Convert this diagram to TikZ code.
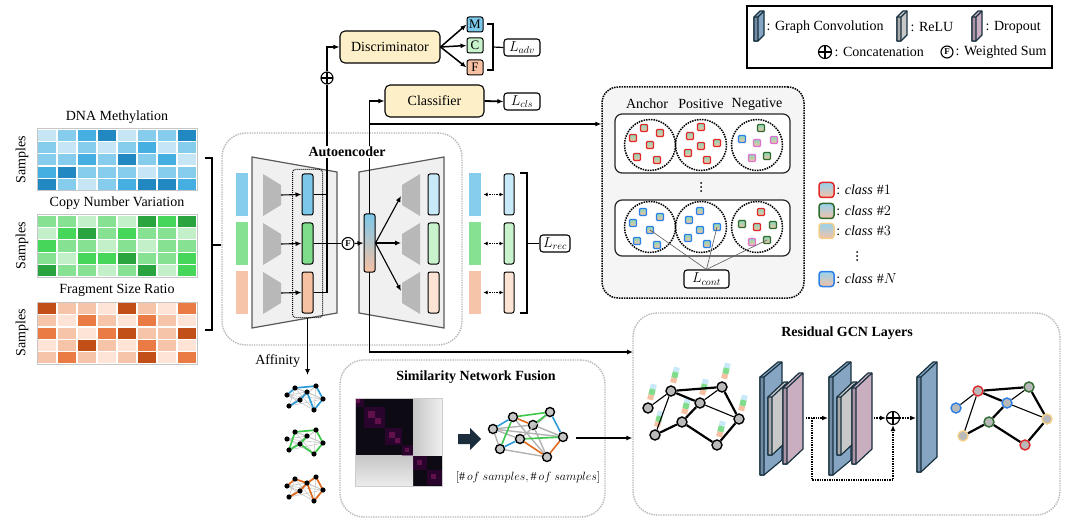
\documentclass[tikz,border=0pt]{standalone}
\usepackage{fontspec}
\setmainfont{Liberation Serif}
\usetikzlibrary{arrows.meta,calc,fit,positioning}

\definecolor{dna1}{HTML}{C6E6F6}
\definecolor{dna2}{HTML}{86CCEC}
\definecolor{dna3}{HTML}{45AFE2}
\definecolor{dna4}{HTML}{2188C2}
\definecolor{cnv1}{HTML}{C3F0C8}
\definecolor{cnv2}{HTML}{86E192}
\definecolor{cnv3}{HTML}{45D65A}
\definecolor{cnv4}{HTML}{2AA43E}
\definecolor{fsr1}{HTML}{FDE4D6}
\definecolor{fsr2}{HTML}{F6C4A8}
\definecolor{fsr3}{HTML}{EB7B45}
\definecolor{fsr4}{HTML}{C24F17}
\definecolor{zblue}{HTML}{7CC8EA}
\definecolor{zgreen}{HTML}{7EDC8A}
\definecolor{zorange}{HTML}{F6C0A3}
\definecolor{xblue}{HTML}{C8E9F8}
\definecolor{xgreen}{HTML}{C8F2CB}
\definecolor{xorange}{HTML}{FDE3D4}
\definecolor{boxyellow}{HTML}{FDF0C9}
\definecolor{aegray}{HTML}{F0F0F0}
\definecolor{trapgray}{HTML}{B8B8B8}
\definecolor{gcblue}{HTML}{86A5C2}
\definecolor{relugray}{HTML}{C8C8C8}
\definecolor{droppink}{HTML}{C9AEC0}
\definecolor{slabedge}{HTML}{17303F}
\definecolor{navy}{HTML}{1B2D3C}
\definecolor{cRed}{HTML}{E02828}
\definecolor{cDkg}{HTML}{2E6B2E}
\definecolor{cPink}{HTML}{E070D0}
\definecolor{cBlue}{HTML}{2A7FE8}
\definecolor{cYel}{HTML}{F3CF8A}
\definecolor{embtop}{HTML}{8AD8B8}
\definecolor{embbot}{HTML}{F6C0A3}
\definecolor{ablue}{HTML}{2E9BD6}
\definecolor{agreen}{HTML}{3CC84A}
\definecolor{aorange}{HTML}{E06A1E}
\definecolor{snfdark}{HTML}{0E0A14}

% one omics matrix: top y, colour prefix, rows of levels
\newcommand{\heatmap}[3]{%
  \foreach \rowvals [count=\r from 0] in {#3} {
    \foreach \v [count=\c from 0] in \rowvals
      \filldraw[fill=#2\v, draw=white, line width=1.4pt] ({37+20*\c},{#1+12.4*\r}) rectangle ++(20,12.4);
  }
  \draw[gray!45, line width=1pt] (37,#1) rectangle ++(160,62);
}

% a GCN slab: top left, height, face width, rise, colour
\newcommand{\slab}[6]{%
  \filldraw[fill=#6, draw=slabedge, line width=1.2pt, line join=round]
    (#1,#2) -- ++(#4,-#5) -- ++(4,0) -- ++(0,#3) -- ++(-#4,#5) -- ++(-4,0) -- cycle;
  \fill[#6!85!black] (#1,#2) rectangle ++(4,#3);
  \draw[slabedge, line width=1.2pt, line join=round] (#1,#2) rectangle ++(4,#3)
    (#1+4,#2) -- ++(#4,-#5);
}

\begin{document}
\begin{tikzpicture}[x=1pt, y=-1pt, line width=1.1pt,
  font=\fontsize{14}{16}\selectfont,
  >={Latex[length=6pt,width=5pt]},
  grpbox/.style={draw=gray!55, densely dotted, line width=1.4pt, rounded corners=24pt, inner sep=0pt},
  latbar/.style={draw, rounded corners=2pt, line width=1pt, minimum width=11pt, minimum height=41pt, inner sep=0pt},
  inbar/.style={minimum width=12pt, minimum height=43pt, inner sep=0pt},
  yelbox/.style={draw, rounded corners=5pt, fill=boxyellow, line width=1.1pt, minimum height=32pt, inner sep=0pt},
  lossbox/.style={draw, rounded corners=3pt, line width=1.1pt, fill=white, minimum width=36pt, minimum height=17pt, inner sep=1pt},
  tagbox/.style={draw, rounded corners=2pt, line width=1pt, minimum width=16pt, minimum height=15pt, inner sep=0pt, font=\fontsize{13}{13}\selectfont},
  oplus/.style={circle, draw, fill=white, line width=1.1pt, minimum size=12pt, inner sep=0pt,
    path picture={\draw[line width=1.1pt] (path picture bounding box.north) -- (path picture bounding box.south)
      (path picture bounding box.west) -- (path picture bounding box.east);}},
  wsum/.style={circle, draw, fill=white, line width=1.1pt, minimum size=12pt, inner sep=0pt, font=\fontsize{9}{9}\selectfont\bfseries},
  pool/.style={circle, draw, densely dotted, line width=1.5pt, minimum size=51pt, inner sep=0pt},
  emb/.style={rectangle, rounded corners=1pt, minimum size=7pt, inner sep=0pt, line width=1.1pt, top color=embtop, bottom color=embbot},
  gnode/.style={circle, draw=#1, fill=gray!55, line width=1.4pt, minimum size=10pt, inner sep=0pt},
  gnode/.default=black,
  title/.style={font=\fontsize{14}{16}\selectfont\bfseries},
]
\useasboundingbox (0,0) rectangle (1080,532);

% group frames
\node[grpbox, minimum width=240pt, minimum height=212pt] (ae) at (342,239) {};
\node[grpbox, minimum width=265pt, minimum height=157pt] (snf) at (472.5,438.5) {};
\node[grpbox, minimum width=427pt, minimum height=202pt] (gcn) at (846.5,414) {};
\node[draw, densely dotted, line width=1.5pt, fill=gray!8, rounded corners=16pt,
  minimum width=202pt, minimum height=211pt] (contr) at (703,192.5) {};

% omics inputs
\node (tdna) at (117,117) {DNA Methylation};
\node (tcnv) at (117,203) {Copy Number Variation};
\node (tfsr) at (117,290) {Fragment Size Ratio};
\foreach \y [count=\i] in {160,246,333}
  \node[rotate=90] (smp\i) at (22,\y) {Samples};
\heatmap{129}{dna}{{1,2,3,4,1,2,2,4},{2,1,2,1,2,3,1,2},{2,2,3,2,4,2,3,1},{3,4,2,2,2,1,2,2},{4,2,1,2,3,4,4,3}}
\heatmap{215}{cnv}{{2,2,1,2,1,4,3,4},{1,3,4,2,3,2,2,1},{3,2,2,1,2,1,2,2},{2,1,3,3,4,2,2,3},{4,2,2,1,2,4,1,3}}
\heatmap{302}{fsr}{{4,2,2,1,4,2,1,3},{2,1,3,2,1,3,2,1},{3,2,1,3,4,2,2,4},{1,2,4,2,1,3,2,1},{2,3,2,1,2,4,1,3}}
\draw[line width=1.3pt] (205,158) -- (212,158) -- (212,330) -- (205,330);
\draw[line width=1.3pt] (212,245) -- (ae.west |- 0,245);

% encoder
\node[inbar, fill=dna2] (im) at (242,194.5) {};
\node[inbar, fill=cnv2] (ic) at (242,243.5) {};
\node[inbar, fill=fsr2] (if) at (242,292.5) {};
\filldraw[fill=aegray, draw=gray!70!black, line width=1.2pt] (252,157) -- (337,172) -- (337,313) -- (252,328) -- cycle;
\foreach \yc in {195,244,293}
  \fill[trapgray] (263,\yc-21) -- (281,\yc-10) -- (281,\yc+10) -- (263,\yc+21) -- cycle;
\node[latbar, fill=zblue] (zm) at (307.5,194.5) {};
\node[latbar, fill=zgreen] (zc) at (307.5,243.5) {};
\node[latbar, fill=zorange] (zf) at (307.5,292.5) {};
\node[fit=(zm)(zf), draw, densely dotted, rounded corners=3pt, line width=1pt, inner xsep=9pt, inner ysep=4pt] (zbox) {};
\foreach \yc/\z in {195/zm,244/zc,293/zf}
  \draw[->] (281,\yc) -- (\z.west);

% decoder
\filldraw[fill=aegray, draw=gray!70!black, line width=1.2pt] (359,172) -- (444,157) -- (444,328) -- (359,313) -- cycle;
\foreach \yc in {195,244,293}
  \fill[trapgray] (402,\yc-10) -- (420,\yc-21) -- (420,\yc+21) -- (402,\yc+10) -- cycle;
\node[latbar, fill=xblue] (xm) at (433.5,194.5) {};
\node[latbar, fill=xgreen] (xc) at (433.5,243.5) {};
\node[latbar, fill=xorange] (xf) at (433.5,292.5) {};

% fusion and heads
\node[oplus] (cat) at (327,78) {};
\node[wsum] (ws) at (348,243.5) {F};
\draw (zm.east) -| (cat.south);
\draw (zf.east) -| (cat.south);
\node[yelbox, minimum width=100pt] (disc) at (390,47) {Discriminator};
\node[yelbox, minimum width=99pt] (cls) at (434.5,101) {Classifier};
\draw[->] (cat.north) |- (disc.west);
\draw (369.5,100) -- (369.5,352);
\node[latbar, minimum height=58pt, top color=zblue, middle color=zgreen, bottom color=zorange] (zfuse) at (369.5,243) {};
\draw (zc.east) -- (ws.west);
\draw[->] (ws.east) -- (zfuse.west);
\foreach \yt in {196,243,291}
  \draw[->] (zfuse.east) -- (401,\yt);
\draw[->] (zfuse.north) |- (cls.west);
\coordinate (tap) at (369.5,124);
\draw[->] (tap) -- (tap -| contr.west);
\coordinate (gin) at (633,352);
\draw[->] (zfuse.south) |- (gin);
\node[title, fill=white, inner sep=1pt] (aetitle) at (347,152) {Autoencoder};

\node[tagbox, fill=zblue] (dm) at (475,24.5) {M};
\node[tagbox, fill=xgreen] (dc) at (475,45.5) {C};
\node[tagbox, fill=zorange] (df) at (475,67.5) {F};
\foreach \t in {dm,dc,df}
  \draw[->, line width=1.5pt] (disc.east) -- (\t.west);
\node[lossbox] (ladv) at (522,47.5) {$L_{adv}$};
\draw[line width=1.2pt] (487,24) -- (493,24) -- (493,70) -- (487,70);
\draw[line width=1.2pt] (493,47) -- (ladv.west);
\node[lossbox] (lcls) at (522,101.5) {$L_{cls}$};
\draw[->, line width=1.8pt] (cls.east) -- (lcls.west);

% reconstruction
\node[inbar, fill=dna2] (rm) at (475,194.5) {};
\node[inbar, fill=cnv2] (rc) at (475,243.5) {};
\node[inbar, fill=fsr2] (rf) at (475,292.5) {};
\node[latbar, minimum width=10pt, fill=xblue] (om) at (509,194.5) {};
\node[latbar, minimum width=10pt, fill=xgreen] (oc) at (509,243.5) {};
\node[latbar, minimum width=10pt, fill=xorange] (of) at (509,292.5) {};
\foreach \a/\b in {rm/om,rc/oc,rf/of}
  \draw[{Latex[length=4pt,width=4pt]}-{Latex[length=4pt,width=4pt]}, densely dotted, line width=1.3pt] (\a.east) ++(2,0) -- (\b.west);
\node[lossbox, minimum width=30pt] (lrec) at (555,243.5) {$L_{rec}$};
\draw[line width=1.2pt] (520,173) -- (527,173) -- (527,313) -- (520,313);
\draw[line width=1.2pt] (527,243.5) -- (lrec.west);

% contrastive panel
\node (hanc) at (647,104) {Anchor};
\node (hpos) at (701,104) {Positive};
\node (hneg) at (757,104) {Negative};
\node[draw=gray!30!black, fill=white, rounded corners=7pt, line width=1.2pt, minimum width=175pt, minimum height=59pt] (trip1) at (702.5,143.5) {};
\node[draw=gray!30!black, fill=white, rounded corners=7pt, line width=1.2pt, minimum width=175pt, minimum height=56pt] (trip2) at (702.5,228) {};
\foreach \d in {-4,0,4}
  \fill (701,187+\d) circle (1);
\foreach \g/\cx/\cy in {1/650/145, 2/701/145, 3/757/145, 4/650/227, 5/701/227, 6/757/227}
  \node[pool] (c\g) at (\cx,\cy) {};
\foreach \g/\pts in {
  1/{-6/-17/cRed, 10/-12/cRed, -17/-7/cRed, 0/0/cRed, -13/12/cRed, 7/15/cRed},
  2/{0/-18/cRed, -11/-9/cRed, 16/-2/cRed, 0/1/cRed, -13/8/cRed, 6/15/cRed},
  3/{4/-17/cDkg, -15/-6/cBlue, 0/-2/cPink, 17/-5/cPink, -5/13/cPink, 10/11/cDkg},
  4/{-7/-15/cBlue, 10/-10/cBlue, -17/-4/cBlue, 0/3/cBlue, -13/14/cBlue, 7/18/cBlue},
  5/{-1/-16/cBlue, -12/-7/cBlue, 16/0/cBlue, -1/3/cBlue, -13/11/cBlue, 6/17/cBlue},
  6/{4/-15/cRed, -15/-3/cDkg, 0/0/cRed, 16/-2/cDkg, -5/15/cPink, 10/13/cDkg}} {
  \foreach \dx/\dy/\col [count=\i] in \pts
    \node[emb, draw=\col] (s\g-\i) at ($(c\g)+(\dx,\dy)$) {};
}
\node[lossbox, minimum width=45pt, minimum height=18pt] (lcont) at (706.5,279) {$L_{cont}$};
\foreach \s in {s4-4,s5-3,s6-6}
  \draw[gray!70!black, line width=0.6pt] (lcont.north) -- (\s.center);

% class legend
\foreach \k/\col/\y/\lab in {1/cRed/190/1, 2/cDkg/211/2, 3/cYel/231/3, 4/cBlue/279/N} {
  \node[emb, minimum size=15pt, rounded corners=3pt, line width=1.5pt, draw=\col,
    top color=zblue!80, middle color=zgreen, bottom color=zorange] (cls\k) at (826.5,\y) {};
  \node[anchor=west, inner sep=1pt] (clt\k) at (cls\k.east) {: $\mathit{class}\;\#\lab$};
}
\foreach \d in {-4,0,4}
  \fill (857,256+\d) circle (1);

% key of symbols
\node[draw, line width=1.4pt, minimum width=305pt, minimum height=62pt] (key) at (899.5,37) {};
\slab{754}{17}{24}{6}{6}{gcblue}
\slab{897}{17}{24}{6}{6}{relugray}
\slab{972}{17}{24}{6}{6}{droppink}
\node[anchor=west, inner sep=0pt] (kgc) at (766,27) {: Graph Convolution};
\node[anchor=west, inner sep=0pt] (krelu) at (910,27) {: ReLU};
\node[anchor=west, inner sep=0pt] (kdrop) at (985,27) {: Dropout};
\node[oplus, minimum size=13pt] (kcat) at (825,52) {};
\node[anchor=west, inner sep=0pt] (kcatt) at (834,52) {: Concatenation};
\node[wsum] (kws) at (947,52) {F};
\node[anchor=west, inner sep=0pt] (kwst) at (955,52) {: Weighted Sum};

% affinity graphs
\draw[->] (zbox.south) -- ++(0,57);
\node[anchor=east] (aff) at (304,361) {Affinity};
\foreach \cy/\ac/\eset in {398/ablue/{1/2,2/4,4/5,5/6,7/3,3/6,7/8},
    442/agreen/{2/4,4/5,5/6,6/7,7/8,3/7,2/8},
    489/aorange/{1/2,2/3,3/4,4/5,5/6,7/3,7/8,3/6}} {
  \begin{scope}[shift={(305,\cy)}]
    \foreach \n/\px/\py in {1/-18/-3, 2/-10/-10, 3/2/-6, 4/11/-12, 5/18/1, 6/9/12, 7/-5/2, 8/-16/8}
      \coordinate (g\n) at (\px,\py);
    \foreach \i/\j in {1/3,1/5,2/5,2/6,3/8,4/7,4/8,1/6,2/8,3/5,5/8,1/7,2/3,4/6}
      \draw[gray!50, line width=0.5pt] (g\i) -- (g\j);
    \foreach \i/\j in \eset
      \draw[\ac, line width=1.7pt] (g\i) -- (g\j);
    \foreach \n in {1,...,8}
      \fill (g\n) circle (2.6);
  \end{scope}
}

% similarity network fusion
\node[title] (snftitle) at (476,377) {Similarity Network Fusion};
\fill[snfdark] (355,398) rectangle (413,455);
\fill[snfdark] (413,455) rectangle (442,486);
\shade[left color=gray!45, right color=gray!12] (413,398) rectangle (442,455);
\shade[top color=gray!45, bottom color=gray!15] (355,455) rectangle (413,486);
\foreach \p/\s in {0/9,9/21,30/17,47/11,58/14,72/15}
  \fill[violet!60!black, opacity=0.45] (355+\p,398+\p) rectangle ++(\s,\s);
\foreach \p/\s in {1/4,13/7,20/6,34/6,40/5,50/4,62/5,76/5}
  \fill[magenta!60!violet, opacity=0.35] (355+\p,398+\p) rectangle ++(\s,\s);
\draw[gray!40, line width=0.5pt] (355,398) rectangle (442,486);
\fill[navy] (458,434) -- (470,434) -- (470,428) -- (481,439) -- (470,450) -- (470,444) -- (458,444) -- cycle;
\foreach \n/\px/\py in {1/493/429, 2/513/417, 3/550/412, 4/533/425, 5/520/439, 6/563/437, 7/500/449, 8/547/457}
  \node[gnode, fill=gray!45, minimum size=9pt] (f\n) at (\px,\py) {};
\foreach \i/\j in {1/4,1/7,7/8,2/8,4/8,3/5,1/6,4/6,1/5}
  \draw[gray!60, line width=1.4pt] (f\i) -- (f\j);
\foreach \i/\j/\ec in {2/3/agreen, 2/7/agreen, 3/4/agreen, 5/6/agreen, 2/4/aorange, 5/8/aorange, 6/8/aorange, 1/2/ablue, 3/6/ablue, 5/7/ablue}
  \draw[\ec, line width=1.6pt] (f\i) -- (f\j);
\node[font=\fontsize{12}{14}\selectfont] (snfdim) at (528,477) {$[\#\,of\ samples, \#\,of\ samples]$};
\coordinate (snfout) at (576,438);
\draw[->] (snfout) -- (snfout -| gcn.west);

% residual GCN layers
\node[title] (gcntitle) at (847,333) {Residual GCN Layers};
\foreach \n/\px/\py in {a/648/408, b/671/391, c/700/403, d/722/387, e/739/419, f/655/435, g/682/422, h/717/445} {
  \begin{scope}[shift={(\px+4,\py-16)}, rotate=-14]
    \fill[xblue] (-3,-8) rectangle (3,-3);
    \fill[zgreen] (-3,-3) rectangle (3,3);
    \fill[zorange] (-3,3) rectangle (3,8);
  \end{scope}
}
\foreach \n/\px/\py in {a/648/408, b/671/391, c/700/403, d/722/387, e/739/419, f/655/435, g/682/422, h/717/445}
  \node[gnode] (\n) at (\px,\py) {};
\foreach \i/\j in {a/b,c/d,c/e,b/f}
  \draw[line width=1.1pt] (\i) -- (\j);
\foreach \i/\j in {b/d,b/c,d/e,f/g,c/g,g/h,h/e}
  \draw[line width=2.2pt] (\i) -- (\j);

\slab{760}{377}{98}{18}{15}{gcblue}
\slab{768}{397}{58}{16}{15}{relugray}
\slab{783}{388}{76}{16}{15}{droppink}
\slab{829}{377}{98}{18}{15}{gcblue}
\slab{837}{397}{58}{16}{15}{relugray}
\slab{852}{388}{76}{16}{15}{droppink}
\slab{917}{377}{95}{16}{15}{gcblue}
\node[oplus, minimum size=13pt] (res) at (893,418) {};
\coordinate (l1out) at (806,418);
\coordinate (l2in) at (828,418);
\coordinate (l2out) at (874,418);
\coordinate (l3in) at (916,418);
\draw[->, densely dotted, line width=1.4pt] (l1out) -- (l2in);
\draw[->, densely dotted, line width=1.4pt] (l2out) -- (res.west);
\draw[->, densely dotted, line width=1.4pt] (res.east) -- (l3in);
\draw[->, densely dotted, line width=1.4pt] (812,418) -- (812,480) -| (res.south);

\foreach \n/\px/\py/\rc in {p/978/391/cRed, q/1029/387/cDkg, r/1007/403/cBlue, s/956/408/cBlue, t/1047/419/cYel, u/963/436/cYel, v/989/422/cDkg, w/1025/445/cRed}
  \node[gnode=\rc] (\n) at (\px,\py) {};
\foreach \i/\j in {s/p,r/q,r/t,p/u}
  \draw[line width=1.1pt] (\i) -- (\j);
\foreach \i/\j in {p/q,p/r,q/t,u/v,r/v,v/w,w/t}
  \draw[line width=2.2pt] (\i) -- (\j);
\end{tikzpicture}
\end{document}
